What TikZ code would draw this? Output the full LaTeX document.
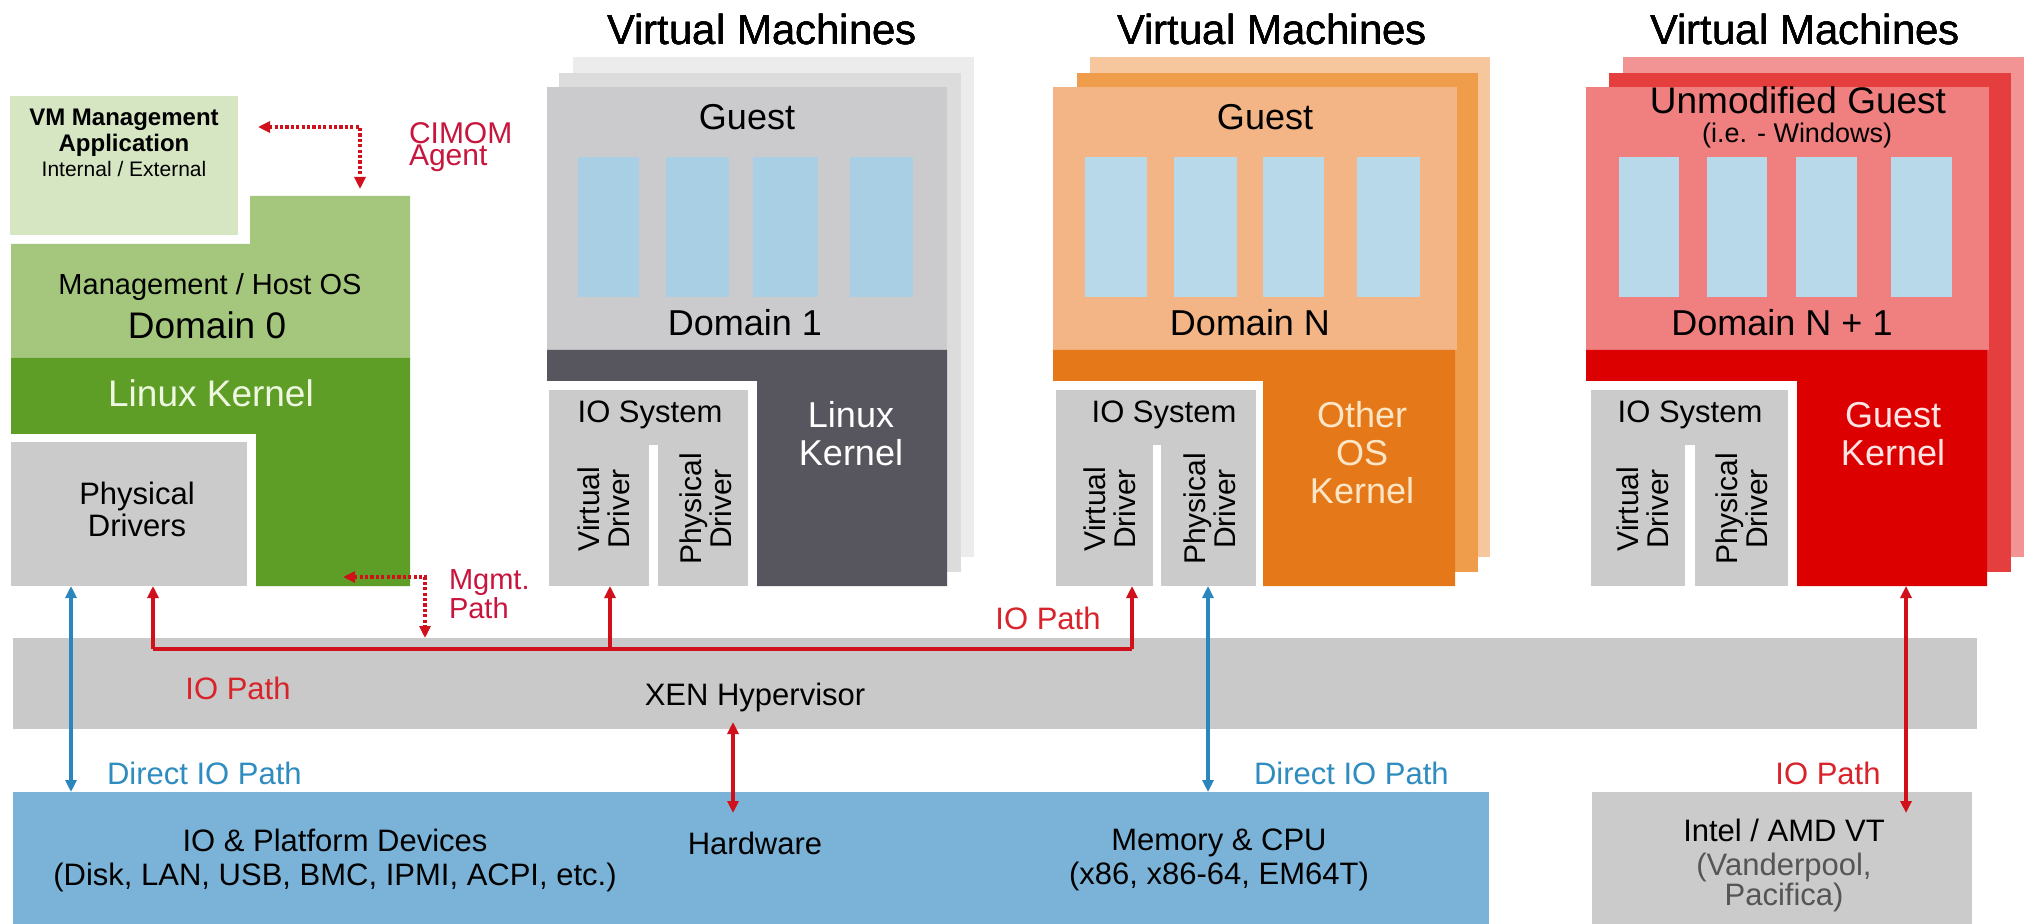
\documentclass[tikz,border=0pt]{standalone}
\usepackage{fontspec}
\setmainfont{Liberation Sans}
\usetikzlibrary{arrows.meta,calc}
\definecolor{mgmtapp}{HTML}{D6E6C3}
\definecolor{domlight}{HTML}{A4C77D}
\definecolor{domdark}{HTML}{5F9E26}
\definecolor{boxgray}{HTML}{CBCBCB}
\definecolor{gfront}{HTML}{CBCBCD}
\definecolor{gmid}{HTML}{DCDCDC}
\definecolor{gback}{HTML}{ECECEC}
\definecolor{gkern}{HTML}{57565E}
\definecolor{appblue}{HTML}{A8CFE4}
\definecolor{appblue2}{HTML}{B8D9EA}
\definecolor{ofront}{HTML}{F3B585}
\definecolor{omid}{HTML}{EF9C4B}
\definecolor{oback}{HTML}{F6C79C}
\definecolor{okern}{HTML}{E57819}
\definecolor{rfront}{HTML}{F07F7F}
\definecolor{rmid}{HTML}{E43E3E}
\definecolor{rback}{HTML}{F29494}
\definecolor{rkern}{HTML}{DC0000}
\definecolor{hypgray}{HTML}{C9C9C9}
\definecolor{hwblue}{HTML}{7AB3D7}
\definecolor{arrred}{HTML}{D0101A}
\definecolor{txtred}{HTML}{D8232A}
\definecolor{crimson}{HTML}{C8153E}
\definecolor{arrblue}{HTML}{2A86BD}
\definecolor{txtblue}{HTML}{2F8CC0}
\definecolor{lgtxt}{HTML}{EEF7E0}
\definecolor{otxt}{HTML}{FDE6C6}
\definecolor{rtxt}{HTML}{FFE4E4}
\definecolor{graytxt}{HTML}{555555}
\newcommand\rectbox[6]{%
  \node[rbox, fill=#6, minimum width={(#4-#2)*0.5pt}, minimum height={(#5-#3)*0.5pt}]
    (#1) at ({(#2+#4)/2},{(#3+#5)/2}) {};}
\begin{document}
\begin{tikzpicture}[x=0.5pt,y=-0.5pt,
  rbox/.style={rectangle, inner sep=0pt, outer sep=0pt, draw=none},
  lbl/.style={inner sep=0pt, outer sep=0pt, align=center},
  ttl/.style={lbl, font=\fontsize{21}{24}\selectfont},
  big/.style={lbl, font=\fontsize{18}{19}\selectfont},
  mid/.style={lbl, font=\fontsize{15.5}{17}\selectfont},
  drv/.style={lbl, rotate=90, font=\fontsize{15}{15}\selectfont},
  red path/.style={draw=arrred, line width=1.6pt},
  blue path/.style={draw=arrblue, line width=1.6pt},
  dot path/.style={draw=arrred, line width=1.8pt, dash pattern=on 1.6pt off 1.1pt},
  tip/.style={-{Triangle[length=6pt,width=5.5pt]}},
  tips/.style={{Triangle[length=6pt,width=5.5pt]}-{Triangle[length=6pt,width=5.5pt]}},
]
\useasboundingbox (0,0) rectangle (2027,924);
\fill[white] (0,0) rectangle (2027,924);

% ---------------- Domain 0 ----------------
\rectbox{app}{10}{96}{238}{235}{mgmtapp}
\fill[domlight] (11,244) -- (250,244) -- (250,196) -- (410,196) -- (410,358) -- (11,358) -- cycle;
\fill[domdark] (11,358) -- (410,358) -- (410,586) -- (256,586) -- (256,434) -- (11,434) -- cycle;
\rectbox{pd}{11}{442}{247}{586}{boxgray}
\coordinate (dom0top) at (360,196);
\coordinate (dom0side) at (410,577);
\node[lbl, font=\bfseries\fontsize{12}{13}\selectfont] (appt) at (124,133) {VM Management\\Application};
\node[lbl, font=\fontsize{10.5}{12}\selectfont] (appt2) at (124,169) {Internal / External};
\node[lbl, font=\fontsize{14.5}{16}\selectfont] (hostos) at (210,287) {Management / Host OS};
\node[lbl, font=\fontsize{18.5}{20}\selectfont] (dom0) at (207,325) {Domain 0};
\node[lbl, text=lgtxt, font=\fontsize{18.5}{20}\selectfont] (lk0) at (211,393) {Linux Kernel};
\node[mid, font=\fontsize{15.5}{16}\selectfont] (pdt) at (137,509) {Physical\\Drivers};
\node[lbl, anchor=west, align=left, text=crimson, font=\fontsize{15}{11.2}\selectfont] (cimom) at (409,147) {CIMOM\\Agent};
\node[lbl, anchor=west, align=left, text=crimson, font=\fontsize{14.5}{11}\selectfont] (mgmtp) at (449,594) {Mgmt.\\Path};

% ---------------- Domain 1 (gray) ----------------
\rectbox{d1back}{573}{57}{974}{557}{gback}
\rectbox{d1mid}{559}{73}{961}{572}{gmid}
\fill[white] (540,381) rectangle (757,592);
\rectbox{d1front}{547}{87}{947}{350}{gfront}
\fill[gkern] (547,350) -- (947,350) -- (947,586) -- (757,586) -- (757,381) -- (547,381) -- cycle;
\rectbox{d1io}{549}{390}{748}{586}{boxgray}
\fill[white] (649,445) rectangle (658,586);
\foreach \a/\b [count=\i] in {578/639,666/729,753/818,850/913}
  \rectbox{d1app\i}{\a}{157}{\b}{297}{appblue}
\node[ttl] (vm1) at (762,29) {Virtual Machines};
\node[big] (g1) at (747,117) {Guest};
\node[big] (d1) at (745,323) {Domain 1};
\node[mid] (io1) at (650,415) {IO System};
\node[drv] (vd1) at (604,509) {Virtual\\Driver};
\node[drv] (pd1) at (706,509) {Physical\\Driver};
\node[big, text=white] (lk1) at (851,434) {Linux\\Kernel};

% ---------------- Domain N (orange) ----------------
\rectbox{dnback}{1090}{57}{1490}{557}{oback}
\rectbox{dnmid}{1077}{73}{1478}{572}{omid}
\fill[white] (1046,381) rectangle (1263,592);
\rectbox{dnfront}{1053}{87}{1457}{350}{ofront}
\fill[okern] (1053,350) -- (1455,350) -- (1455,586) -- (1263,586) -- (1263,381) -- (1053,381) -- cycle;
\rectbox{dnio}{1056}{390}{1256}{586}{boxgray}
\fill[white] (1153,445) rectangle (1161,586);
\foreach \a/\b [count=\i] in {1085/1147,1174/1237,1263/1324,1357/1420}
  \rectbox{dnapp\i}{\a}{157}{\b}{297}{appblue2}
\node[ttl] (vm2) at (1272,29) {Virtual Machines};
\node[big] (g2) at (1265,117) {Guest};
\node[big] (dn) at (1250,323) {Domain N};
\node[mid] (io2) at (1164,415) {IO System};
\node[drv] (vd2) at (1110,509) {Virtual\\Driver};
\node[drv] (pd2) at (1210,509) {Physical\\Driver};
\node[big, text=otxt, font=\fontsize{18}{19}\selectfont] (ok) at (1362,453) {Other\\OS\\Kernel};

% ---------------- Domain N+1 (red) ----------------
\rectbox{drback}{1623}{57}{2024}{557}{rback}
\rectbox{drmid}{1609}{73}{2011}{572}{rmid}
\fill[white] (1580,381) rectangle (1797,592);
\rectbox{drfront}{1586}{87}{1989}{350}{rfront}
\fill[rkern] (1586,350) -- (1987,350) -- (1987,586) -- (1797,586) -- (1797,381) -- (1586,381) -- cycle;
\rectbox{drio}{1591}{390}{1788}{586}{boxgray}
\fill[white] (1685,445) rectangle (1695,586);
\foreach \a/\b [count=\i] in {1619/1679,1707/1767,1796/1857,1891/1952}
  \rectbox{drapp\i}{\a}{157}{\b}{297}{appblue2}
\node[ttl] (vm3) at (1805,29) {Virtual Machines};
\node[big, font=\fontsize{18.5}{20}\selectfont] (g3) at (1798,100) {Unmodified Guest};
\node[lbl, font=\fontsize{13.5}{14}\selectfont] (win) at (1797,136) {(i.e. - Windows)};
\node[big] (dr) at (1782,323) {Domain N + 1};
\node[mid] (io3) at (1690,415) {IO System};
\node[drv] (vd3) at (1643,509) {Virtual\\Driver};
\node[drv] (pd3) at (1742,509) {Physical\\Driver};
\node[big, text=rtxt] (gk) at (1893,434) {Guest\\Kernel};

% ---------------- Hypervisor & hardware ----------------
\rectbox{hyp}{13}{638}{1977}{729}{hypgray}
\rectbox{hw}{13}{792}{1489}{924}{hwblue}
\rectbox{vt}{1592}{792}{1972}{924}{boxgray}
\node[mid] (xen) at (755,697) {XEN Hypervisor};
\node[mid] (iodev) at (335,860) {IO \& Platform Devices\\(Disk, LAN, USB, BMC, IPMI, ACPI, etc.)};
\node[mid] (hwt) at (755,843) {Hardware};
\node[mid] (mem) at (1219,860) {Memory \& CPU\\(x86, x86-64, EM64T)};
\node[mid] (intel) at (1784,830) {Intel / AMD VT};
\node[mid, text=graytxt, font=\fontsize{15.5}{15}\selectfont] (vand) at (1784,882) {(Vanderpool,\\Pacifica)};

% ---------------- Labels ----------------
\node[mid, text=txtred] (iop1) at (238,688) {IO Path};
\node[mid, text=txtred] (iop2) at (1048,618) {IO Path};
\node[mid, text=txtred] (iop3) at (1828,773) {IO Path};
\node[mid, text=txtblue, anchor=west] (dio1) at (107,773) {Direct IO Path};
\node[mid, text=txtblue, anchor=west] (dio2) at (1254,773) {Direct IO Path};

% ---------------- Connectors ----------------
\coordinate (xa) at (71,0);
\coordinate (xb) at (153,0);
\coordinate (xc) at (610,0);
\coordinate (xd) at (1132,0);
\coordinate (xe) at (1208,0);
\coordinate (xf) at (733,0);
\coordinate (xg) at (1906,0);
\coordinate (busy) at (0,649);
\coordinate (cimc) at (360,127);
\coordinate (mgc) at (425,577);

% IO path (red, solid)
\draw[red path, tip] (busy -| xb) -- (pd.south -| xb);
\draw[red path] (busy -| xb) -- (busy -| xd);
\draw[red path, tip] (busy -| xc) -- (d1io.south -| xc);
\draw[red path, tip] (busy -| xd) -- (dnio.south -| xd);
% direct IO (blue)
\draw[blue path, tips] (pd.south -| xa) -- (hw.north -| xa);
\draw[blue path, tips] (dnio.south -| xe) -- (hw.north -| xe);
% hypervisor <-> hardware
\draw[red path, tips] (hyp.south -| xf) ++(0,-7) -- ($(hw.north -| xf)+(0,21)$);
% guest kernel <-> VT
\draw[red path, tips] (drio.south -| xg) -- ($(vt.north -| xg)+(0,21)$);
% CIMOM (dotted)
\draw[dot path, tips] (app.east |- cimc) ++(20,0) -- (cimc) -- (dom0top |- 0,189);
% Mgmt path (dotted)
\draw[dot path, tips] (dom0side) ++(-67,0) -- (mgc) -- (hyp.north -| mgc);
\end{tikzpicture}
\end{document}
